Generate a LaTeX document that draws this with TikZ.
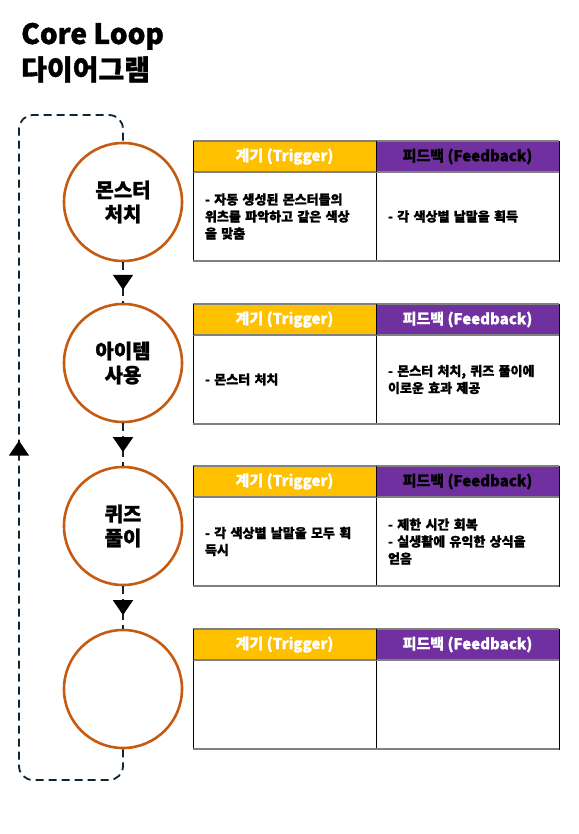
\documentclass[tikz,border=0pt]{standalone}
\usepackage{fontspec}
\setmainfont{Noto Sans CJK KR}[BoldFont={Noto Sans CJK KR Black}, BoldFeatures={FakeBold=1.2}]
\usetikzlibrary{positioning,arrows.meta,decorations.markings}
\definecolor{stagering}{RGB}{197,90,17}
\definecolor{loopnavy}{RGB}{16,37,51}
\definecolor{triggold}{RGB}{255,192,0}
\definecolor{feedpurple}{RGB}{112,48,160}
\definecolor{rulegray}{RGB}{128,128,128}

\begin{document}
\begin{tikzpicture}[x=1pt, y=-1pt,
  stage/.style={circle, draw=stagering, line width=2.6pt, minimum size=118pt,
    align=center, font=\bfseries\fontsize{20}{24}\selectfont},
  headcell/.style={minimum width=183pt, minimum height=31pt, inner sep=0pt,
    outer sep=0pt, font=\bfseries\fontsize{15}{18}\selectfont},
  trighead/.style={headcell, fill=triggold, text=white},
  feedhead/.style={headcell, fill=feedpurple},
  cellbox/.style={draw=black, line width=0.8pt, minimum height=89pt, text width=159pt,
    inner xsep=12pt, inner ysep=0pt, outer sep=0pt, align=left,
    font=\bfseries\fontsize{13}{17}\selectfont},
  graybar/.style={draw=rulegray, line width=1.6pt},
  flowline/.style={draw=loopnavy, line width=1.8pt, dash pattern=on 8pt off 5pt},
  midarrow/.style={postaction={decorate}, decoration={markings,
    mark=at position #1 with {\arrow[black]{Triangle[width=20pt,length=15pt]}}}}
]
  \useasboundingbox (0,0) rectangle (578,834);

  % Title
  \node[anchor=base west, inner sep=0pt, font=\bfseries\fontsize{28}{32}\selectfont] (title) at (21,44) {Core Loop};
  \node[anchor=base west, inner sep=0pt, font=\bfseries\fontsize{28}{32}\selectfont] (subtitle) at (21,80) {다이어그램};

  % Stages
  \node[stage] (c1) at (123,202) {몬스터\\처치};
  \node[stage] (c2) at (123,363) {아이템\\사용};
  \node[stage] (c3) at (123,526) {퀴즈\\풀이};
  \node[stage] (c4) at (123,689) {};

  % Arrows between stages
  \draw[flowline, midarrow=0.68] (c1.south) -- (c2.north);
  \draw[flowline, midarrow=0.68] (c2.south) -- (c3.north);
  \draw[flowline, midarrow=0.68] (c3.south) -- (c4.north);

  % Loop back
  \coordinate (loopbl) at (19,780);
  \coordinate (looptl) at (19,115);
  \draw[flowline, rounded corners=14pt, midarrow=462pt] (c4.south) |- (loopbl) -- (looptl) -| (c1.north);

  % Row 1
  \node[trighead, anchor=north west] (trig1) at (193,141) {계기 (Trigger)};
  \node[feedhead, right=0pt of trig1, text=black] (feed1) {피드백 (Feedback)};
  \node[cellbox, below=0pt of trig1] (trigtxt1) {- 자동 생성된 몬스터들의\\위츠를 파악하고 같은 색상\\을 맞춤};
  \node[cellbox, below=0pt of feed1] (feedtxt1) {- 각 색상별 날말을 획득};

  % Row 2
  \node[trighead, anchor=north west] (trig2) at (193,304) {계기 (Trigger)};
  \node[feedhead, right=0pt of trig2, text=white] (feed2) {피드백 (Feedback)};
  \node[cellbox, below=0pt of trig2] (trigtxt2) {- 몬스터 처치};
  \node[cellbox, below=0pt of feed2] (feedtxt2) {- 몬스터 처치, 퀴즈 풀이에\\이로운 효과 제공};

  % Row 3
  \node[trighead, anchor=north west] (trig3) at (193,466) {계기 (Trigger)};
  \node[feedhead, right=0pt of trig3, text=black] (feed3) {피드백 (Feedback)};
  \node[cellbox, below=0pt of trig3] (trigtxt3) {- 각 색상별 날말을 모두 획\\득시};
  \node[cellbox, below=0pt of feed3] (feedtxt3) {- 제한 시간 회복\\- 실생활에 유익한 상식을\\얻음};

  % Row 4
  \node[trighead, anchor=north west] (trig4) at (193,629) {계기 (Trigger)};
  \node[feedhead, right=0pt of trig4, text=white] (feed4) {피드백 (Feedback)};
  \node[cellbox, below=0pt of trig4] (trigtxt4) {};
  \node[cellbox, below=0pt of feed4] (feedtxt4) {};

  % Table rules
  \foreach \r in {1,2,3,4} {
    \draw[graybar] (trig\r.north west) -- (feed\r.north east);
    \draw[graybar] (trig\r.south west) -- (feed\r.south east);
    \draw[graybar] (trigtxt\r.south west) -- (feedtxt\r.south east);
    \draw[line width=0.8pt] (trig\r.north west) -- (trig\r.south west);
    \draw[line width=0.8pt] (feed\r.north west) -- (feed\r.south west);
    \draw[line width=0.8pt] (feed\r.north east) -- (feed\r.south east);
  }
\end{tikzpicture}
\end{document}
